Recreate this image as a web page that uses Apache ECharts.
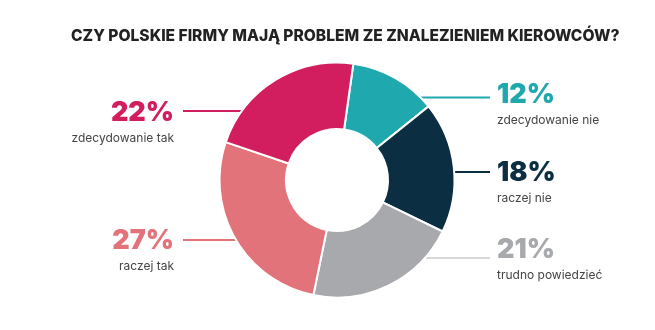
<!DOCTYPE html>
<html>
<head>
<meta charset="utf-8">
<script src="https://cdn.jsdelivr.net/npm/echarts@6/dist/echarts.min.js"></script>
<style>
  html, body { margin: 0; padding: 0; background: #ffffff; }
  #chart { width: 655px; height: 330px; }
</style>
</head>
<body>
<div id="chart"></div>
<script>
// Survey answers, clockwise from the top
const categories = ['zdecydowanie nie', 'raczej nie', 'trudno powiedzieć', 'raczej tak', 'zdecydowanie tak'];
const shares = [12, 18, 21, 27, 22];
const sliceColors = ['#1FA9AF', '#0B2E42', '#A8A9AC', '#E2737A', '#D21E5E'];
const lineColors = ['#1FA9AF', '#0B2E42', '#D9D9D9', '#E2737A', '#D21E5E'];

// Label placement: side of the ring, vertical centre of the percentage, y of the leader line
const labelSide = ['right', 'right', 'right', 'left', 'left'];
const labelTextY = [95, 173, 250, 241, 113];
const labelLineY = [97.5, 172, 258, 240, 111];

const CX = 337, CY = 180, R_IN = 51, R_OUT = 117.5;
const LEFT_TEXT_X = 174, LEFT_LINE_X = 183;
const RIGHT_TEXT_X = 497, RIGHT_LINE_X = 490;

const rich = {};
sliceColors.forEach((c, i) => {
  rich['p' + i] = { fontFamily: 'Inter', fontWeight: 900, fontSize: 27, lineHeight: 30, color: c };
});
rich.t = { fontFamily: 'Inter', fontSize: 12, lineHeight: 20, color: '#444444' };

const chart = echarts.init(document.getElementById('chart'));
chart.setOption({
  animation: false,
  title: {
    text: 'CZY POLSKIE FIRMY MAJĄ PROBLEM ZE ZNALEZIENIEM KIEROWCÓW?',
    left: 66,
    top: 23,
    textStyle: { fontFamily: 'Inter', fontWeight: 800, fontSize: 15.6, color: '#222222' }
  },
  series: [{
    type: 'pie',
    center: [CX, CY],
    radius: [R_IN, R_OUT],
    startAngle: 82,
    clockwise: true,
    avoidLabelOverlap: false,
    itemStyle: { borderColor: '#ffffff', borderWidth: 2 },
    data: categories.map((name, i) => ({
      name: name,
      value: shares[i],
      itemStyle: { color: sliceColors[i] },
      labelLine: { lineStyle: { color: lineColors[i], width: 2 } }
    })),
    label: {
      show: true,
      position: 'outer',
      formatter: p => '{p' + p.dataIndex + '|' + p.value + '%}\n{t|' + p.name + '}',
      rich: rich
    },
    labelLine: { show: true, length: 10, length2: 10, smooth: false },
    labelLayout: function (params) {
      const i = params.dataIndex;
      const ly = labelLineY[i];
      const dx = Math.sqrt(Math.max(0, R_OUT * R_OUT - (ly - CY) * (ly - CY)));
      if (labelSide[i] === 'right') {
        const ex = CX + dx;
        return {
          x: RIGHT_TEXT_X, y: labelTextY[i] - 15, align: 'left', verticalAlign: 'top',
          labelLinePoints: [[ex, ly], [(ex + RIGHT_LINE_X) / 2, ly], [RIGHT_LINE_X, ly]]
        };
      }
      const ex = CX - dx;
      return {
        x: LEFT_TEXT_X, y: labelTextY[i] - 15, align: 'right', verticalAlign: 'top',
        labelLinePoints: [[ex, ly], [(ex + LEFT_LINE_X) / 2, ly], [LEFT_LINE_X, ly]]
      };
    }
  }]
});
</script>
</body>
</html>
